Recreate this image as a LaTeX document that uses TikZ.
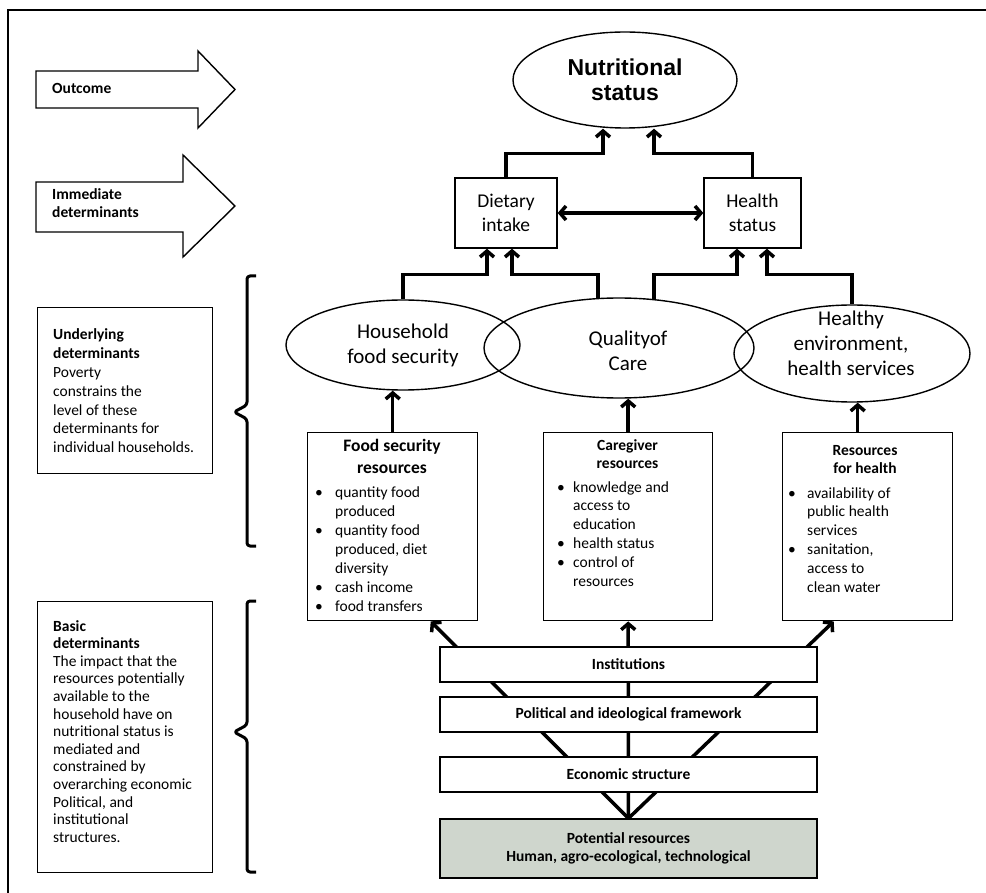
\documentclass[tikz,border=0pt]{standalone}
\usepackage{fontspec}
\setmainfont{Carlito}
\newfontfamily\arialfont{Liberation Sans}
\usetikzlibrary{shapes.geometric,arrows.meta,calc}
\pgfdeclarelayer{bg}
\pgfsetlayers{bg,main}
\newcommand\myfs[2]{\fontsize{#1}{#2}\selectfont}
\def\bulw{16pt}
\newcommand\bul{\makebox[\bulw][l]{\textbullet}}
\newcommand\ind{\hspace*{\bulw}}
\definecolor{potfill}{RGB}{207,214,205}
\begin{document}
\begin{tikzpicture}[x=1pt,y=-1pt,
  bx/.style={draw, line width=1.4pt, fill=white, inner sep=0pt, align=center},
  ell/.style={draw, ellipse, line width=1.4pt, inner sep=0pt, align=center},
  conn/.style={line width=3.5pt, -{Straight Barb[length=6pt,width=14pt]}},
  dconn/.style={line width=3.5pt, {Straight Barb[length=6pt,width=14pt]}-{Straight Barb[length=6pt,width=14pt]}},
  bracestyle/.style={line width=3pt, rounded corners=3pt, line join=round},
  fatarrow/.style={draw, line width=1.4pt, line join=miter},
  txt/.style={inner sep=0pt, anchor=base west},
  ctxt/.style={inner sep=0pt, anchor=base},
  regular/.style={font=\myfs{15.5}{18}},
  boldt/.style={font=\myfs{15.5}{18}\bfseries}
]
\useasboundingbox (0,0) rectangle (986,893);
\draw[line width=1.2pt] (8,10) rectangle (1000,905);

% level arrows
\draw[fatarrow] (36,71) -- (198,71) -- (198,51) -- (235,89.5) -- (198,128) -- (198,108) -- (36,108) -- cycle;
\node[txt, boldt] (outl) at (52,94) {Outcome};
\draw[fatarrow] (36,182) -- (183,182) -- (183,155) -- (235,206) -- (183,257) -- (183,232) -- (36,232) -- cycle;
\node[txt, boldt] (imm1) at (52,200) {Immediate};
\node[txt, boldt] (imm2) at (52,218) {determinants};

% left description boxes
\node[bx, minimum width=175, minimum height=166, anchor=north west] (ubox) at (37,307) {};
\begin{scope}[regular]
\foreach \t [count=\i from 0] in {{\bfseries Underlying},{\bfseries determinants},Poverty,constrains the,level of these,determinants for,individual households.}
  \node[txt] (ut\i) at (53,{340+\i*18.8}) {\t};
\end{scope}
\node[bx, minimum width=175, minimum height=271, anchor=north west] (bbox) at (37,601) {};
\begin{scope}[regular]
\foreach \t [count=\i from 0] in {{\bfseries Basic},{\bfseries determinants},The impact that the,resources potentially,available to the,household have on,nutritional status is,mediated and,constrained by,overarching economic,{Political, and},institutional,structures.}
  \node[txt] (bt\i) at (53,{631+\i*17.6}) {\t};
\end{scope}

% braces
\draw[bracestyle] (256,276) -- (247,276) -- (247,405) -- (234,412) -- (247,419) -- (247,546) -- (256,546);
\draw[bracestyle] (256,601) -- (247,601) -- (247,725) -- (234,732) -- (247,739) -- (247,872) -- (256,872);

% outcome
\node[ell, minimum width=224, minimum height=96, font=\arialfont\bfseries\myfs{23}{25}] (nut) at (625,80) {Nutritional\\status};

% immediate determinants
\node[bx, minimum width=102, minimum height=70, font=\myfs{19.5}{24}] (diet) at (506,213) {Dietary\\intake};
\node[bx, minimum width=97, minimum height=70, font=\myfs{19.5}{24}] (health) at (752.5,213) {Health\\status};

% underlying ellipses
\node[ell, minimum width=234, minimum height=90, font=\myfs{21}{25}] (house) at (403,345) {Household\\food security};
\node[ell, minimum width=270, minimum height=100] (qual) at (619,348) {};
\node[inner sep=0pt, align=center, font=\myfs{21}{25}] (qualt) at (628,350.5) {Qualityof\\Care};
\node[ell, minimum width=236, minimum height=97] (env) at (852,353.5) {};
\node[inner sep=0pt, align=center, font=\myfs{21}{25}] (envt) at (851,343) {Healthy\\environment,\\health services};

% resource boxes
\node[bx, minimum width=170, minimum height=188, anchor=north west] (fsr) at (307,432) {};
\node[bx, minimum width=169, minimum height=188, anchor=north west] (cgr) at (543,432) {};
\node[bx, minimum width=170, minimum height=188, anchor=north west] (hres) at (782,432) {};

\node[ctxt, font=\myfs{17.5}{21}\bfseries] (fst1) at (392,452) {Food security};
\node[ctxt, font=\myfs{17.5}{21}\bfseries] (fst2) at (392,473) {resources};
\node[ctxt, boldt] (cgt1) at (627.5,450) {Caregiver};
\node[ctxt, boldt] (cgt2) at (627.5,468) {resources};
\node[ctxt, boldt] (hrt1) at (865,455) {Resources};
\node[ctxt, boldt] (hrt2) at (865,473) {for health};

\begin{scope}[regular]
\def\bulw{20pt}
\foreach \t [count=\i from 0] in {{\bul quantity food},{\ind produced},{\bul quantity food},{\ind produced, diet},{\ind diversity},{\bul cash income},{\bul food transfers}}
  \node[txt] (fl\i) at (315,{497+\i*19}) {\t};
\end{scope}
\begin{scope}[regular]
\def\bulw{16pt}
\foreach \t [count=\i from 0] in {{\bul knowledge and},{\ind access to},{\ind education},{\bul health status},{\bul control of},{\ind resources}}
  \node[txt] (cl\i) at (557,{492+\i*18.9}) {\t};
\end{scope}
\begin{scope}[regular]
\def\bulw{19pt}
\foreach \t [count=\i from 0] in {{\bul availability of},{\ind public health},{\ind services},{\bul sanitation,},{\ind access to},{\ind clean water}}
  \node[txt] (hl\i) at (788,{498+\i*18.9}) {\t};
\end{scope}

% basic structure boxes
\node[bx, boldt, minimum width=377, minimum height=35] (inst) at (628.5,664.5) {Institutions};
\node[bx, boldt, minimum width=377, minimum height=35] (pol) at (628.5,714.5) {Political and ideological framework};
\node[bx, boldt, minimum width=377, minimum height=35] (eco) at (628.5,774.5) {Economic structure};
\node[bx, boldt, minimum width=377, minimum height=59, fill=potfill] (pot) at (628.5,848.5) {Potential resources\\Human, agro-ecological, technological};

% rays from potential resources
\begin{pgfonlayer}{bg}
\draw[conn] (pot.north) -- ($(fsr.south)+(38,0)$);
\draw[conn] (pot.north) -- (cgr.south);
\draw[conn] (pot.north) -- ($(hres.south)+(-34,0)$);
\end{pgfonlayer}

% resource boxes to ellipses
\draw[conn] (fsr.north) -- (fsr.north |- house.south);
\draw[conn] (cgr.north) -- (cgr.north |- qual.south);
\draw[conn] ($(hres.north)+(-10,0)$) -- ($(hres.north |- env.south)+(-10,0)$);

% ellipses to immediate determinants
\draw[conn] (house.north) -- ++(0,-25) -| ($(diet.south)+(-19,0)$);
\draw[conn] ($(qual.north)+(-21,1)$) -- ++(0,-24) -| ($(diet.south)+(6,0)$);
\draw[conn] ($(qual.north)+(35,2)$) -- ++(0,-25) -| ($(health.south)+(-15.5,0)$);
\draw[conn] (env.north) -- ++(0,-30) -| ($(health.south)+(14.5,0)$);

% immediate to outcome
\draw[conn] (diet.north) -- ++(0,-24) -| ($(nut.south)+(-22,0)$);
\draw[conn] (health.north) -- ++(0,-24) -| ($(nut.south)+(29,0)$);
\draw[dconn] (diet.east) -- (health.west);
\end{tikzpicture}
\end{document}
